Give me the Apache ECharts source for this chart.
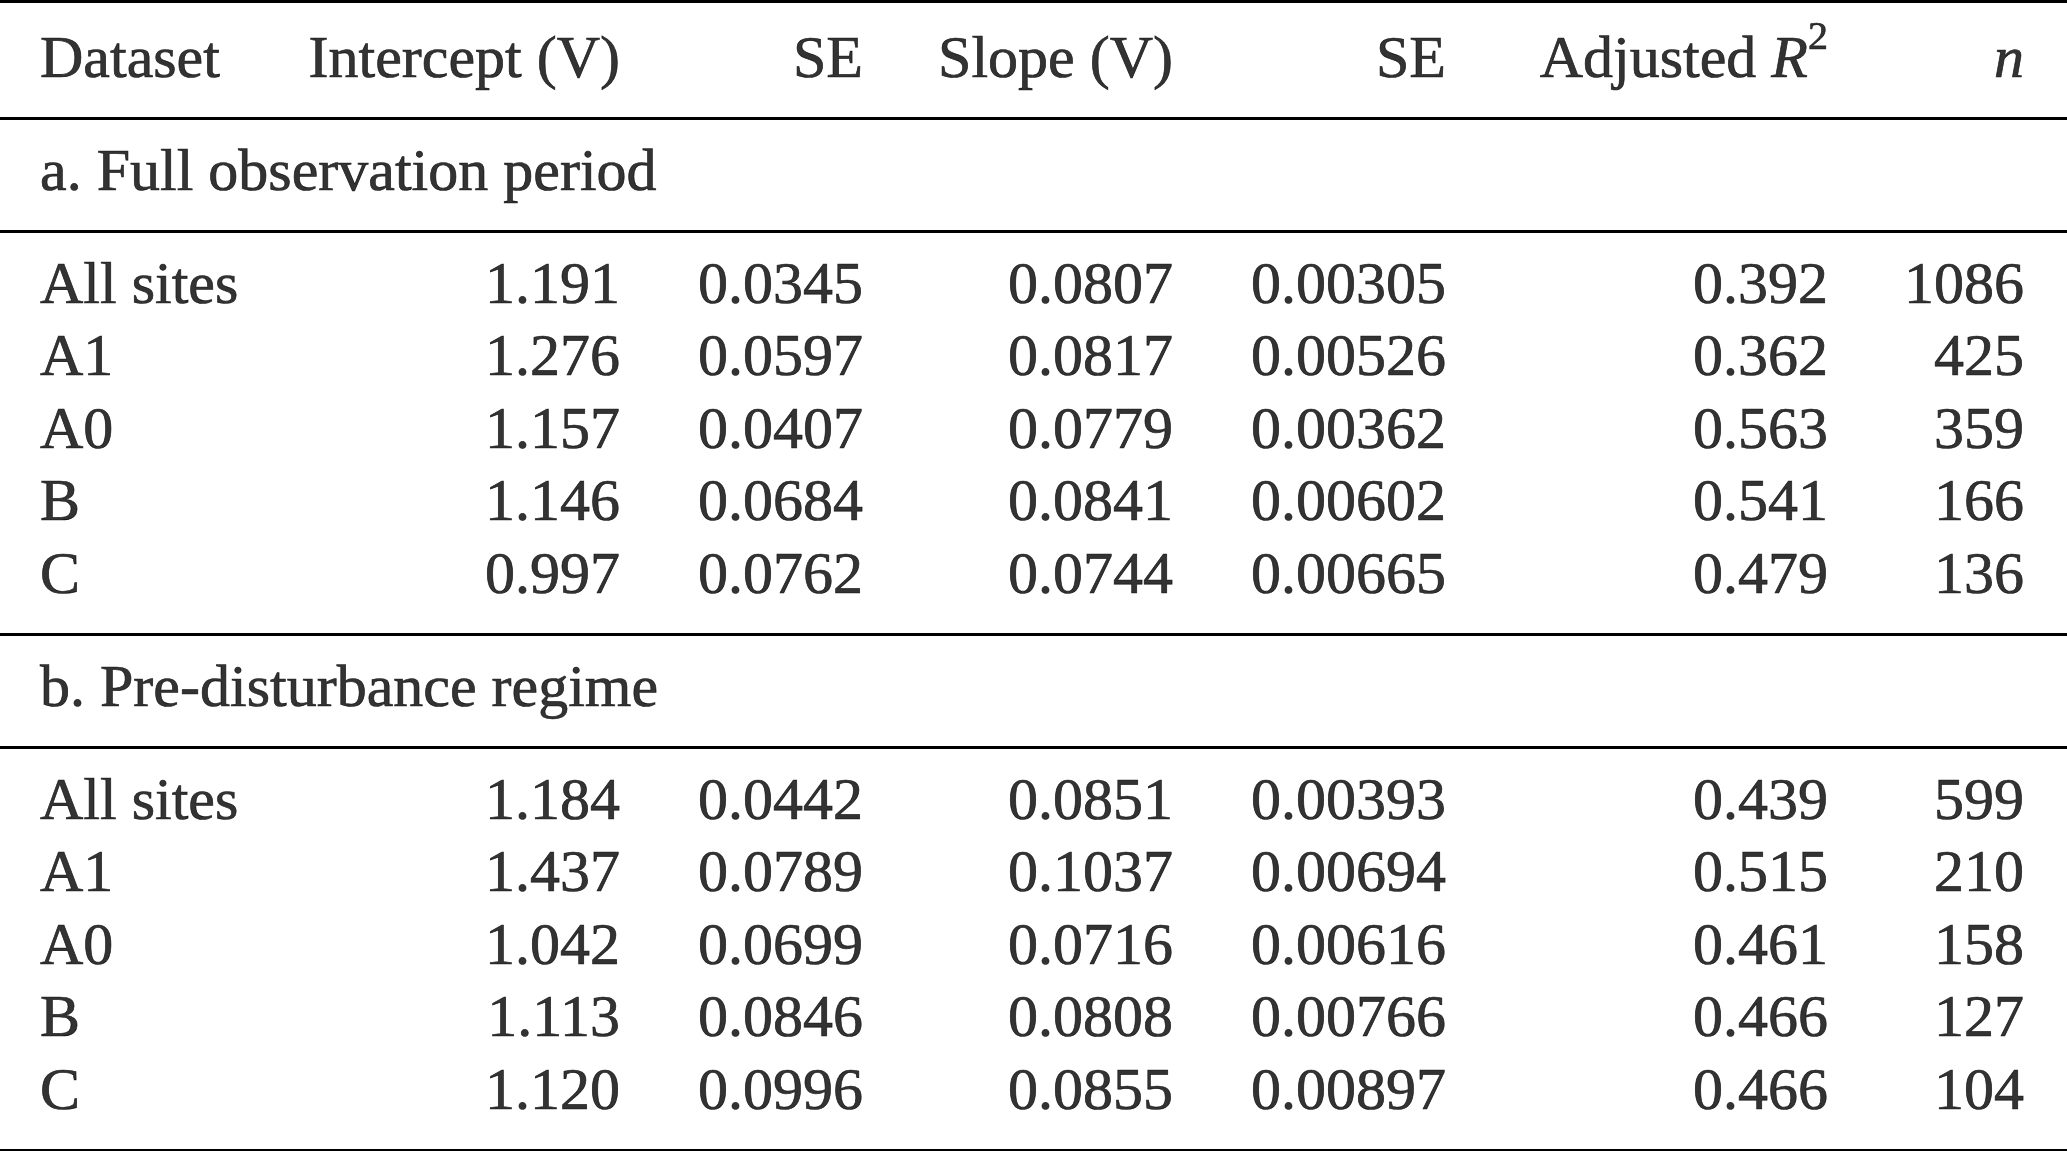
<!DOCTYPE html>
<html>
<head>
<meta charset="utf-8">
<title>Regression table</title>
<script src="https://cdn.jsdelivr.net/npm/echarts@6/dist/echarts.min.js"></script>
<style>
  html, body { margin: 0; padding: 0; background: #fff; }
  #main { width: 2067px; height: 1151px; }
</style>
</head>
<body>
<div id="main"></div>
<script>
const datasets = ['All sites', 'A1', 'A0', 'B', 'C']
const sectionTitles = ['a. Full observation period', 'b. Pre-disturbance regime']
const headers = ['Intercept (V)', 'SE', 'Slope (V)', 'SE', 'Adjusted {it|R}{sup|2}', '{it|n}']

// a. Full observation period
const interceptA = [1.191, 1.276, 1.157, 1.146, 0.997]
const interceptSeA = [0.0345, 0.0597, 0.0407, 0.0684, 0.0762]
const slopeA = [0.0807, 0.0817, 0.0779, 0.0841, 0.0744]
const slopeSeA = [0.00305, 0.00526, 0.00362, 0.00602, 0.00665]
const r2A = [0.392, 0.362, 0.563, 0.541, 0.479]
const nA = [1086, 425, 359, 166, 136]

// b. Pre-disturbance regime
const interceptB = [1.184, 1.437, 1.042, 1.113, 1.120]
const interceptSeB = [0.0442, 0.0789, 0.0699, 0.0846, 0.0996]
const slopeB = [0.0851, 0.1037, 0.0716, 0.0808, 0.0855]
const slopeSeB = [0.00393, 0.00694, 0.00616, 0.00766, 0.00897]
const r2B = [0.439, 0.515, 0.461, 0.466, 0.466]
const nB = [599, 210, 158, 127, 104]

const sections = [
  [interceptA, interceptSeA, slopeA, slopeSeA, r2A, nA],
  [interceptB, interceptSeB, slopeB, slopeSeB, r2B, nB]
]
const decimals = [3, 4, 4, 5, 3, 0]

// layout (pixels)
const W = 2067
const H = 1151
const FONT = '"Liberation Serif", "Times New Roman", serif'
const FS = 60
const colLeft = 40
const colRight = [620, 863, 1173, 1446, 1828, 2024]
const headerY = 61.5
const firstRule = 1.5
const headerRule = 118
const titleGap = 56
const titleRowH = 113
const rowStep = 72.5
const blockTail = 57

// work out row centres and rule positions
const rules = [firstRule, headerRule]
const titleRows = []
const dataRows = []
let y = headerRule
sections.forEach(() => {
  titleRows.push(y + titleGap)
  y += titleRowH
  rules.push(y)
  const rowsY = []
  datasets.forEach((d, i) => rowsY.push(y + titleGap + i * rowStep))
  dataRows.push(rowsY)
  y = rowsY[rowsY.length - 1] + blockTail
  rules.push(y)
})

// first column: dataset names, section titles, header
const leftItems = [{ value: [colLeft, headerY], text: 'Dataset' }]
sectionTitles.forEach((s, k) => {
  leftItems.push({ value: [colLeft, titleRows[k]], text: s })
  datasets.forEach((d, i) => leftItems.push({ value: [colLeft, dataRows[k][i]], text: d }))
})

// thin outline darkens the rather light serif face
const ink = { color: '#000', textBorderColor: '#000', textBorderWidth: 0.7 }

const baseLabel = Object.assign({
  show: true,
  position: 'inside',
  fontFamily: FONT,
  fontSize: FS,
  formatter: (p) => p.data.text
}, ink)

const series = [{
  type: 'scatter',
  symbolSize: 0,
  silent: true,
  data: leftItems,
  label: Object.assign({}, baseLabel, { align: 'left', verticalAlign: 'middle' }),
  markLine: {
    silent: true,
    symbol: ['none', 'none'],
    label: { show: false },
    lineStyle: { color: '#000', width: 3, type: 'solid' },
    data: rules.map(r => ({ yAxis: r }))
  }
}]

// numeric columns
colRight.forEach((x, c) => {
  const items = [{ value: [x, headerY], text: headers[c] }]
  sections.forEach((cols, k) => {
    cols[c].forEach((v, i) => {
      items.push({ value: [x, dataRows[k][i]], text: v.toFixed(decimals[c]) })
    })
  })
  series.push({
    type: 'scatter',
    symbolSize: 0,
    silent: true,
    data: items,
    label: Object.assign({}, baseLabel, {
      align: 'right',
      verticalAlign: 'middle',
      rich: {
        it: Object.assign({ fontFamily: FONT, fontSize: FS, fontStyle: 'italic', lineHeight: 86 }, ink),
        sup: Object.assign({ fontFamily: FONT, fontSize: 40, verticalAlign: 'top', lineHeight: 40 }, ink)
      }
    })
  })
})

const chart = echarts.init(document.getElementById('main'))
chart.setOption({
  animation: false,
  backgroundColor: '#fff',
  grid: { left: 0, right: 0, top: 0, bottom: 0 },
  xAxis: { type: 'value', min: 0, max: W, show: false },
  yAxis: { type: 'value', min: 0, max: H, inverse: true, show: false },
  series: series
})
</script>
</body>
</html>
